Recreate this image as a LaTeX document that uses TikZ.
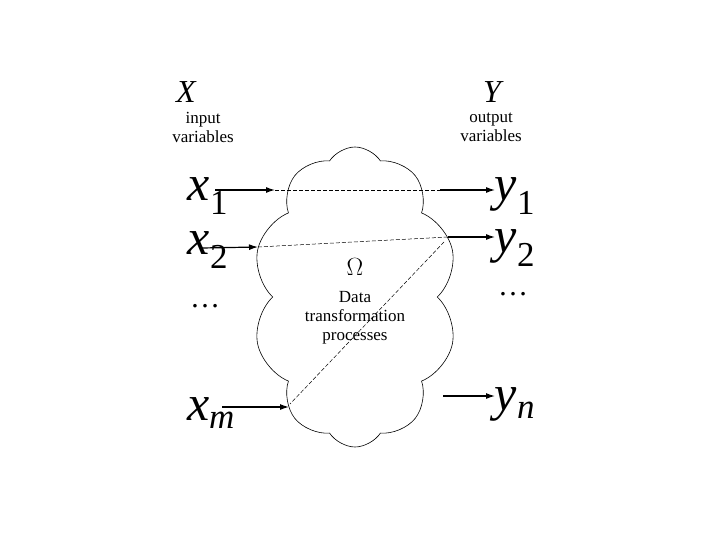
\documentclass[tikz,border=0pt]{standalone}
\usepackage{fontspec}
\setmainfont{Liberation Serif}
\usetikzlibrary{shapes.symbols,arrows.meta}
\begin{document}
\begin{tikzpicture}[x=1pt,y=-1pt,
  arr/.style={-{Latex[length=9pt,width=6pt]},line width=1.2pt},
  dsh/.style={line width=0.5pt,dash pattern=on 4pt off 2pt},
  big/.style={font=\fontsize{50}{50}\selectfont\itshape,inner sep=0},
  small/.style={font=\fontsize{17}{19}\selectfont,align=center},
  capt/.style={font=\fontsize{32}{32}\selectfont\itshape}]
\useasboundingbox (0,0) rectangle (720,540);
\node[cloud,draw,line width=0.6pt,cloud puffs=10,cloud puff arc=115,aspect=0.7,minimum width=205pt,minimum height=300pt] (cl) at (355,297) {};
\node[capt] (X) at (186,92) {X};
\node[capt] (Y) at (492,92) {Y};
\node[small] (iv) at (203,127) {input\\variables};
\node[small] (ov) at (491,127) {output\\variables};
\node[big] (x1) at (208,196) {x\textsubscript{\upshape 1}};
\node[big] (x2) at (208,250) {x\textsubscript{\upshape 2}};
\node[font=\fontsize{30}{30}\selectfont] (xd) at (205,306) {\ldots};
\node[big] (xm) at (211,413) {x\textsubscript{m}};
\node[big] (y1) at (515,196) {y\textsubscript{\upshape 1}};
\node[big] (y2) at (515,248) {y\textsubscript{\upshape 2}};
\node[font=\fontsize{30}{30}\selectfont] (yd) at (513,294) {\ldots};
\node[big] (yn) at (515,404) {y\textsubscript{n}};
\node[font=\fontsize{26}{26}\selectfont] (om) at (355,267) {$\Omega$};
\node[small] (dt) at (355,318) {Data\\transformation\\processes};
\coordinate (a1) at (215,190); \coordinate (b1) at (275,190);
\coordinate (c1) at (440,190); \coordinate (d1) at (495,190);
\coordinate (a2) at (202,248); \coordinate (b2) at (258,247);
\coordinate (c2) at (448,237); \coordinate (d2) at (495,237);
\coordinate (am) at (222,407); \coordinate (bm) at (289,407);
\coordinate (cn) at (443,396); \coordinate (dn) at (495,396);
\coordinate (e1) at (444,242); \coordinate (e2) at (290,404);
\draw[arr] (a1) -- (b1); \draw[dsh] (b1) -- (c1); \draw[arr] (c1) -- (d1);
\draw[arr] (a2) -- (b2); \draw[dsh] (b2) -- (c2); \draw[arr] (c2) -- (d2);
\draw[arr] (am) -- (bm); \draw[dsh] (e1) -- (e2);
\draw[arr] (cn) -- (dn);
\end{tikzpicture}
\end{document}
